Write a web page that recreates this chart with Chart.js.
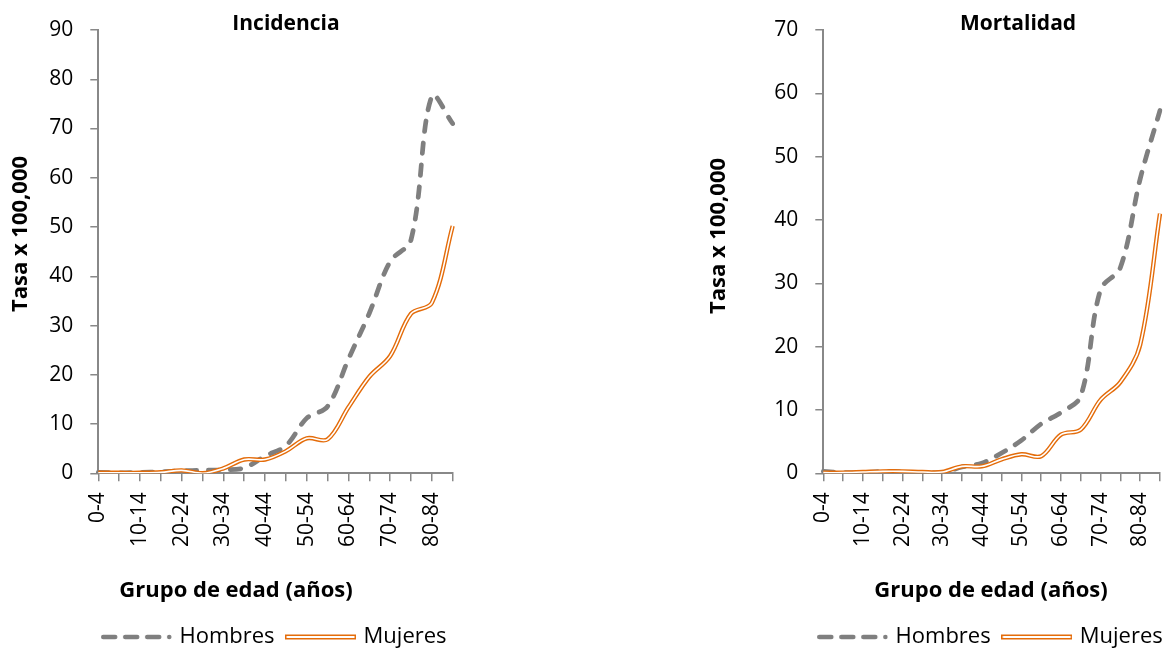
<!DOCTYPE html>
<html lang="es">
<head>
<meta charset="utf-8">
<title>Incidencia y mortalidad por grupo de edad</title>
<script src="https://cdn.jsdelivr.net/npm/chart.js@4.4.1/dist/chart.umd.min.js"></script>
<style>
  html, body { margin: 0; padding: 0; background: #fff; overflow: hidden; width: 1171px; height: 652px; }
  #wrap { position: relative; width: 1171px; height: 652px; }
  canvas { position: absolute; top: 0; }
  #incidencia { left: 0; }
  #mortalidad { left: 690px; }
</style>
</head>
<body>
<div id="wrap">
  <canvas id="incidencia" width="470" height="652"></canvas>
  <canvas id="mortalidad" width="490" height="652"></canvas>
</div>
<script>
// Age groups (quinquenios)
const ageGroups = ['0-4', '5-9', '10-14', '15-19', '20-24', '25-29', '30-34', '35-39', '40-44',
                   '45-49', '50-54', '55-59', '60-64', '65-69', '70-74', '75-79', '80-84', '85+'];

// Rates per 100,000
const incidenciaHombres = [0.2, 0.1, 0.2, 0.3, 0.5, 0.6, 0.7, 1.1, 3.5, 5.6, 11.2, 13.6, 23.2, 32.5, 43.0, 47.4, 76.6, 71.0];
const incidenciaMujeres = [0.1, 0.1, 0.1, 0.2, 0.6, 0.0, 1.0, 2.8, 2.8, 4.5, 7.1, 6.9, 13.4, 19.6, 23.8, 32.4, 34.6, 50.2];
const mortalidadHombres = [0.3, 0.1, 0.1, 0.3, 0.2, 0.1, 0.1, 1.0, 1.6, 3.2, 5.2, 7.8, 9.6, 12.2, 29.0, 32.5, 46.5, 57.3];
const mortalidadMujeres = [0.1, 0.1, 0.2, 0.3, 0.3, 0.2, 0.2, 1.1, 1.1, 2.2, 3.0, 2.7, 6.1, 6.9, 11.6, 14.4, 20.3, 41.0];

// Y axis ranges
const incidenciaYMax = 90;
const mortalidadYMax = 70;
const yStep = 10;

const seriesNames = ['Hombres', 'Mujeres'];

const FONT = "'Open Sans', 'Noto Sans', sans-serif";
const GRAY = '#7f7f7f';
const ORANGE = '#e46c0a';
const AXIS = '#888888';
const TEXT = '#000000';

// Legend swatches: dashed gray line and double orange line
function dashSwatch() {
  const c = document.createElement('canvas');
  c.width = 71; c.height = 8;
  const g = c.getContext('2d');
  g.strokeStyle = GRAY; g.lineWidth = 4.5; g.lineCap = 'round';
  g.setLineDash([12, 10]);
  g.beginPath(); g.moveTo(2.25, 4); g.lineTo(68.3, 4); g.stroke();
  return c;
}
function doubleSwatch() {
  const c = document.createElement('canvas');
  c.width = 71; c.height = 8;
  const g = c.getContext('2d');
  g.fillStyle = ORANGE; g.fillRect(0, 1.5, 71, 5);
  g.fillStyle = '#fff'; g.fillRect(1.5, 3, 68, 2);
  return c;
}
const swatches = { Hombres: dashSwatch(), Mujeres: doubleSwatch() };

// Free text (panel title and axis titles)
const panelText = {
  id: 'panelText',
  afterDraw(chart, args, opts) {
    const ctx = chart.ctx;
    (opts.items || []).forEach(it => {
      ctx.save();
      ctx.font = it.font;
      ctx.fillStyle = TEXT;
      ctx.textAlign = 'center';
      ctx.textBaseline = 'middle';
      ctx.translate(it.x, it.y);
      if (it.rotate) ctx.rotate(it.rotate);
      ctx.fillText(it.text, 0, 0);
      ctx.restore();
    });
  }
};

// Center the legend row under the plot area at a given height
const legendPlacement = {
  id: 'legendPlacement',
  afterLayout(chart, args, opts) {
    const lg = chart.legend;
    if (!lg) return;
    const ca = chart.chartArea;
    const dx = (ca.left + ca.right) / 2 - (lg.left + lg.right) / 2;
    const lab = lg.options.labels;
    const fs = (lab.font && lab.font.size) || 22;
    const dy = opts.y - (lg.top + lab.padding + fs / 2);
    lg.left += dx; lg.right += dx;
    lg.top += dy; lg.bottom += dy;
  }
};

function noScalePadding(s) {
  s.paddingLeft = 0; s.paddingRight = 0; s.paddingTop = 0; s.paddingBottom = 0;
}

function buildChart(canvasId, hombres, mujeres, yMax, geom, texts) {
  const datasets = [
    { label: seriesNames[0], data: hombres, borderColor: GRAY, borderWidth: 4.75,
      borderDash: [10.5, 11.5], borderCapStyle: 'round', pointRadius: 0, tension: 0.35, fill: false, order: 3 },
    { label: seriesNames[1], data: mujeres, borderColor: ORANGE, borderWidth: 4.4,
      pointRadius: 0, tension: 0.35, fill: false, order: 2 },
    // inner white stroke that turns the orange line into a double line
    { label: '', data: mujeres, borderColor: '#ffffff', borderWidth: 1.6,
      pointRadius: 0, tension: 0.35, fill: false, order: 1 }
  ];

  return new Chart(document.getElementById(canvasId), {
    type: 'line',
    data: { labels: ageGroups, datasets },
    plugins: [panelText, legendPlacement],
    options: {
      responsive: false,
      animation: false,
      events: [],
      layout: { padding: { top: geom.top, right: geom.right, left: 0, bottom: 0 } },
      scales: {
        x: {
          type: 'category',
          offset: false,
          grid: { drawOnChartArea: false, drawTicks: true, tickLength: 8, color: AXIS, lineWidth: 1.5 },
          border: { display: true, color: AXIS, width: 2 },
          ticks: {
            autoSkip: false, minRotation: 90, maxRotation: 90, padding: 11,
            color: TEXT, font: { family: FONT, size: 21 },
            callback(value, index) { return index % 2 === 0 ? this.getLabelForValue(value) : ''; }
          },
          afterFit(s) {
            noScalePadding(s);
            const lgH = s.chart.legend ? s.chart.legend.height : 0;
            s.height = s.chart.height - geom.bottom - lgH;
          }
        },
        y: {
          min: 0, max: yMax,
          grid: { drawOnChartArea: false, drawTicks: true, tickLength: 8, color: AXIS, lineWidth: 1.5 },
          border: { display: true, color: AXIS, width: 2 },
          ticks: { stepSize: yStep, padding: 17, color: TEXT, font: { family: FONT, size: 21 } },
          afterFit(s) { noScalePadding(s); s.width = geom.left; }
        }
      },
      plugins: {
        title: { display: false },
        tooltip: { enabled: false },
        legend: {
          display: true,
          position: 'bottom',
          labels: {
            usePointStyle: true,
            pointStyleWidth: 64,
            padding: 14,
            color: TEXT,
            font: { family: FONT, size: 22 },
            generateLabels(chart) {
              return chart.data.datasets
                .map((ds, i) => ({ ds, i }))
                .filter(o => o.ds.label)
                .map(o => ({
                  text: o.ds.label,
                  pointStyle: swatches[o.ds.label],
                  datasetIndex: o.i,
                  hidden: false,
                  lineWidth: 0,
                  fillStyle: 'rgba(0,0,0,0)',
                  strokeStyle: 'rgba(0,0,0,0)',
                  fontColor: TEXT
                }));
            }
          }
        },
        legendPlacement: { y: 637 },
        panelText: { items: texts }
      }
    }
  });
}

const BOLD21 = "bold 21px " + FONT;
const BOLD22 = "bold 22px " + FONT;

buildChart('incidencia', incidenciaHombres, incidenciaMujeres, incidenciaYMax,
  { top: 30, bottom: 473.3, left: 98.3, right: 17.3 },
  [
    { text: 'Incidencia', x: 286, y: 24, font: BOLD21 },
    { text: 'Tasa x 100,000', x: 21, y: 234, font: BOLD22, rotate: -Math.PI / 2 },
    { text: 'Grupo de edad (años)', x: 236, y: 591, font: BOLD22 }
  ]);

buildChart('mortalidad', mortalidadHombres, mortalidadMujeres, mortalidadYMax,
  { top: 30, bottom: 473.3, left: 133.3, right: 20 },
  [
    { text: 'Mortalidad', x: 328, y: 24, font: BOLD21 },
    { text: 'Tasa x 100,000', x: 29, y: 236, font: BOLD22, rotate: -Math.PI / 2 },
    { text: 'Grupo de edad (años)', x: 301, y: 591, font: BOLD22 }
  ]);
</script>
</body>
</html>
